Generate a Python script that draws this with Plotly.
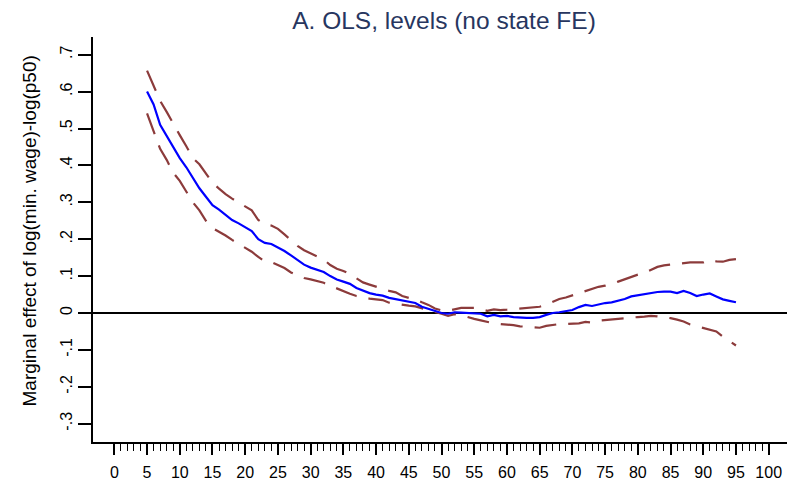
import plotly.graph_objects as go

pct = list(range(5, 96))

effect = [0.600, 0.565, 0.510, 0.480, 0.447, 0.420, 0.395, 0.365, 0.338, 0.315,
          0.292, 0.280, 0.266, 0.252, 0.243, 0.233, 0.222, 0.200, 0.190, 0.187,
          0.178, 0.168, 0.156, 0.143, 0.131, 0.123, 0.116, 0.111, 0.100, 0.091,
          0.085, 0.079, 0.068, 0.060, 0.054, 0.050, 0.047, 0.041, 0.038, 0.034,
          0.031, 0.027, 0.017, 0.012, 0.006, 0.000, -0.002, 0.002, 0.001, 0.000,
          0.000, -0.002, -0.009, -0.005, -0.009, -0.008, -0.011, -0.013, -0.013, -0.013,
          -0.011, -0.005, 0.000, 0.002, 0.004, 0.008, 0.016, 0.022, 0.019, 0.024,
          0.027, 0.029, 0.033, 0.038, 0.045, 0.048, 0.052, 0.055, 0.057, 0.058,
          0.058, 0.054, 0.060, 0.054, 0.046, 0.050, 0.053, 0.045, 0.037, 0.033,
          0.029]

upper = [0.657, 0.618, 0.575, 0.545, 0.512, 0.482, 0.452, 0.420, 0.403, 0.378,
         0.353, 0.337, 0.322, 0.310, 0.300, 0.290, 0.278, 0.252, 0.240, 0.237,
         0.228, 0.213, 0.198, 0.182, 0.170, 0.162, 0.154, 0.145, 0.130, 0.120,
         0.114, 0.106, 0.094, 0.083, 0.077, 0.071, 0.067, 0.060, 0.056, 0.046,
         0.041, 0.037, 0.029, 0.022, 0.012, 0.007, 0.006, 0.010, 0.014, 0.014,
         0.014, 0.010, 0.006, 0.010, 0.008, 0.009, 0.011, 0.013, 0.014, 0.016,
         0.017, 0.022, 0.030, 0.038, 0.042, 0.048, 0.054, 0.060, 0.066, 0.071,
         0.074, 0.078, 0.085, 0.092, 0.098, 0.104, 0.109, 0.118, 0.125, 0.129,
         0.131, 0.135, 0.137, 0.137, 0.137, 0.137, 0.144, 0.140, 0.139, 0.144,
         0.146]

lower = [0.541, 0.495, 0.445, 0.415, 0.380, 0.358, 0.328, 0.300, 0.278, 0.250,
         0.230, 0.221, 0.210, 0.198, 0.188, 0.178, 0.166, 0.152, 0.140, 0.138,
         0.131, 0.122, 0.110, 0.102, 0.095, 0.091, 0.087, 0.082, 0.074, 0.066,
         0.058, 0.052, 0.046, 0.042, 0.039, 0.037, 0.035, 0.028, 0.025, 0.021,
         0.020, 0.018, 0.013, 0.009, 0.005, -0.002, -0.008, -0.003, -0.006, -0.012,
         -0.016, -0.020, -0.025, -0.028, -0.030, -0.031, -0.033, -0.036, -0.038, -0.039,
         -0.040, -0.035, -0.032, -0.030, -0.030, -0.029, -0.028, -0.024, -0.026, -0.021,
         -0.019, -0.017, -0.015, -0.013, -0.011, -0.011, -0.010, -0.008, -0.009, -0.011,
         -0.014, -0.018, -0.023, -0.031, -0.036, -0.039, -0.044, -0.050, -0.064, -0.076,
         -0.088]

x_ticks = list(range(0, 101, 5))
x_minor = [i for i in range(0, 101) if i % 5]
y_ticks = [-0.3, -0.2, -0.1, 0, 0.1, 0.2, 0.3, 0.4, 0.5, 0.6, 0.7]
y_labels = ["-.3", "-.2", "-.1", "0", ".1", ".2", ".3", ".4", ".5", ".6", ".7"]

title_text = "A. OLS, levels (no state FE)"
ytitle_text = "Marginal effect of log(min. wage)-log(p50)"

FONT = "Liberation Sans, Arial, sans-serif"
CI_COLOR = "#8c3b3b"

fig = go.Figure()
fig.add_trace(go.Scatter(x=pct, y=upper, mode="lines",
                         line=dict(color=CI_COLOR, width=2.2, dash="22px,12px"),
                         showlegend=False, hoverinfo="skip"))
fig.add_trace(go.Scatter(x=pct, y=lower, mode="lines",
                         line=dict(color=CI_COLOR, width=2.2, dash="22px,12px"),
                         showlegend=False, hoverinfo="skip"))
fig.add_trace(go.Scatter(x=pct, y=effect, mode="lines",
                         line=dict(color="#0000ff", width=2.2),
                         showlegend=False))

fig.update_layout(
    width=787, height=485,
    margin=dict(l=93, r=0, t=37, b=43),
    paper_bgcolor="white", plot_bgcolor="white",
    font=dict(family=FONT, color="black", size=16),
    title=dict(text=title_text, x=444 / 787, xanchor="center",
               y=1 - 20 / 485, yanchor="middle",
               font=dict(family=FONT, size=24.5, color="#27365f")),
    xaxis=dict(range=[-3.26, 102.8], showgrid=False, zeroline=False,
               showline=True, linecolor="black", linewidth=1.6,
               ticks="outside", ticklen=11, tickwidth=1.6, tickcolor="black",
               tickmode="array", tickvals=x_ticks,
               ticktext=[str(v) for v in x_ticks],
               tickfont=dict(size=16), ticklabelstandoff=4,
               minor=dict(ticks="outside", ticklen=7, tickwidth=1.3,
                          tickcolor="black", tickmode="array", tickvals=x_minor)),
    yaxis=dict(range=[-0.3496, 0.748], showgrid=False,
               zeroline=True, zerolinecolor="black", zerolinewidth=1.8,
               showline=True, linecolor="black", linewidth=1.6,
               ticks="outside", ticklen=13, tickwidth=1.6, tickcolor="black",
               tickmode="array", tickvals=y_ticks, ticktext=y_labels,
               tickangle=-90, tickfont=dict(size=16)),
    annotations=[dict(text=ytitle_text, textangle=-90, xref="paper", yref="paper",
                      x=(29.5 - 93) / 694, y=(442 - 231) / 405,
                      xanchor="center", yanchor="middle", showarrow=False,
                      font=dict(family=FONT, size=19, color="black"))],
)

fig.write_html("out.html")
